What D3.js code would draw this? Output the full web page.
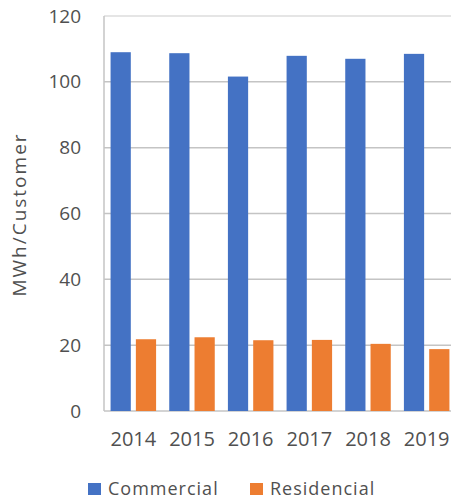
<!DOCTYPE html>
<html>
<head>
  <meta charset="utf-8">
  <title>MWh per Customer</title>
  <script src="https://cdn.jsdelivr.net/npm/d3@7"></script>
  <style>
    body { margin: 0; background: #fff; }
    text { font-family: "Open Sans", sans-serif; fill: #505050; }
  </style>
</head>
<body>
  <script type="text/javascript">
    // data
    var years = ["2014", "2015", "2016", "2017", "2018", "2019"];
    var series = ["Commercial", "Residencial"];
    var commercial = [109, 108.7, 101.6, 107.9, 107, 108.5];
    var residencial = [21.8, 22.4, 21.5, 21.6, 20.4, 18.8];
    var yTicks = [0, 20, 40, 60, 80, 100, 120];
    var colors = ["#4472C4", "#ED7D31"];

    var w = 451;
    var h = 500;
    var plotLeft = 104, plotRight = 456, plotTop = 16, plotBottom = 411;

    var svg = d3.select("body")
      .append("svg")
      .attr("width", w)
      .attr("height", h);

    var x0 = d3.scaleBand()
      .domain(years)
      .range([plotLeft, plotRight]);

    var x1 = d3.scaleBand()
      .domain(series)
      .range([0, x0.bandwidth()])
      .paddingInner(0.2)
      .paddingOuter(0.26);

    var y = d3.scaleLinear()
      .domain([0, 120])
      .range([plotBottom, plotTop]);

    var color = d3.scaleOrdinal().domain(series).range(colors);

    // gridlines
    svg.append("g")
      .selectAll("line")
      .data(yTicks)
      .enter()
      .append("line")
      .attr("x1", plotLeft)
      .attr("x2", plotRight)
      .attr("y1", d => y(d))
      .attr("y2", d => y(d))
      .attr("stroke", d => d == 120 ? "#dcdcdc" : "#c4c4c4")
      .attr("stroke-width", 1.5);

    // left axis line
    svg.append("line")
      .attr("x1", plotLeft).attr("x2", plotLeft)
      .attr("y1", y(120)).attr("y2", y(0))
      .attr("stroke", "#c4c4c4")
      .attr("stroke-width", 1.5);

    // bars
    var rows = years.map((yr, i) => ({ year: yr, values: [commercial[i], residencial[i]] }));

    svg.append("g")
      .selectAll("g")
      .data(rows)
      .enter()
      .append("g")
      .attr("transform", d => "translate(" + x0(d.year) + ",0)")
      .selectAll("rect")
      .data(d => series.map((s, j) => ({ key: s, value: d.values[j] })))
      .enter()
      .append("rect")
      .attr("x", d => x1(d.key))
      .attr("width", x1.bandwidth())
      .attr("y", d => y(d.value))
      .attr("height", d => y(0) - y(d.value))
      .attr("fill", d => color(d.key));

    // y axis
    var yAxis = svg.append("g")
      .attr("transform", "translate(" + plotLeft + ",0)")
      .call(d3.axisLeft(y).tickValues(yTicks).tickSize(0).tickPadding(23));
    yAxis.select(".domain").remove();
    yAxis.selectAll("text").style("font-size", "19px").style("fill", "#505050");

    // x axis
    var xAxis = svg.append("g")
      .attr("transform", "translate(0," + plotBottom + ")")
      .call(d3.axisBottom(x0).tickSize(0).tickPadding(21));
    xAxis.select(".domain").remove();
    xAxis.selectAll("text").style("font-size", "20px").style("fill", "#505050");

    // y title
    svg.append("text")
      .attr("transform", "translate(26," + ((plotTop + plotBottom) / 2 + 1) + ") rotate(-90)")
      .attr("text-anchor", "middle")
      .style("font-size", "19px")
      .style("letter-spacing", "2px")
      .text("MWh/Customer");

    // legend
    var legendX = [88, 250];
    var legend = svg.append("g")
      .selectAll("g")
      .data(series)
      .enter()
      .append("g")
      .attr("transform", (d, i) => "translate(" + legendX[i] + ",483)");

    legend.append("rect")
      .attr("width", 13)
      .attr("height", 12)
      .attr("fill", d => color(d));

    legend.append("text")
      .attr("x", 20)
      .attr("y", 6)
      .attr("dy", "0.35em")
      .style("font-size", "18px")
      .style("letter-spacing", "1px")
      .text(d => d);
  </script>
</body>
</html>
